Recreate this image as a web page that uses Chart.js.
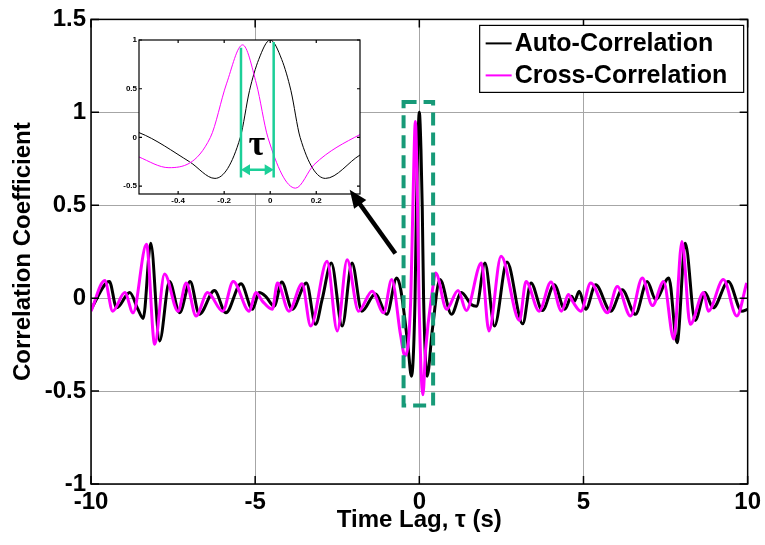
<!DOCTYPE html>
<html>
<head>
<meta charset="utf-8">
<script src="https://cdn.jsdelivr.net/npm/chart.js@4.4.1/dist/chart.umd.min.js"></script>
<style>
  html, body { margin: 0; padding: 0; background: #fff; }
  #wrap { position: relative; width: 765px; height: 545px; }
  #main { position: absolute; left: 0; top: 0; }
  #inset { position: absolute; left: 95px; top: 28px; }
</style>
</head>
<body>
<div id="wrap">
  <canvas id="main" width="765" height="545"></canvas>
  <canvas id="inset" width="320" height="240"></canvas>
</div>
<script>
// ── Series: time lag (s) / correlation coefficient ───────────────────────────

const AUTO_T = [
    -10.0, -9.44, -9.22, -8.82, -8.57, -8.41, -8.18, -7.91, -7.61, -7.30,
    -6.98, -6.70, -6.24, -5.89, -5.43, -5.08, -4.88, -4.68, -4.42, -4.19,
    -3.87, -3.44, -3.16, -2.96, -2.68, -2.35, -2.05, -1.75, -1.34, -0.99,
    -0.69, -0.57, -0.35, -0.24, -0.13, -0.09, -0.05, 0, 0.05, 0.09,
    0.13, 0.24, 0.39, 0.63, 0.98, 1.28, 1.58, 1.74, 2.0, 2.29,
    2.67, 3.15, 3.40, 3.75, 4.11, 4.43, 4.64, 4.72, 4.87, 5.07,
    5.37, 5.83, 6.18, 6.58, 6.94, 7.2, 7.6, 7.85, 8.10, 8.40,
    8.70, 8.95, 9.41, 9.82, 10.0,
];
const AUTO_V = [
    -0.06, 0.09, -0.052, 0.03, -0.06, -0.109, 0.296, -0.23, 0.09, -0.079,
    0.09, -0.087, 0.041, -0.079, 0.077, -0.06, 0.03, 0.01, -0.043, 0.087,
    -0.06, 0.082, -0.141, -0.007, 0.189, -0.15, 0.189, -0.07, 0.023, -0.087,
    0.109, 0.05, -0.25, -0.42, 0.0, 0.48, 0.8, 1.0, 0.8, 0.48,
    0.0, -0.42, -0.18, 0.1, -0.087, 0.03, -0.034, -0.043, 0.189, -0.15,
    0.194, -0.138, 0.082, -0.066, 0.072, -0.06, 0.01, -0.018, 0.037, -0.06,
    0.072, -0.07, 0.045, -0.087, 0.09, -0.007, 0.109, -0.24, 0.296, -0.12,
    0.03, -0.052, 0.09, -0.07, -0.06,
];

const CROSS_T = [
    -10.0, -9.58, -9.34, -8.97, -8.72, -8.31, -8.06, -7.76, -7.35, -7.10,
    -6.80, -6.45, -5.99, -5.67, -5.18, -4.98, -4.78, -4.48, -4.32, -3.97,
    -3.57, -3.31, -2.81, -2.50, -2.20, -1.85, -1.44, -1.09, -0.84, -0.57,
    -0.44, -0.26, -0.19, -0.12, -0.06, -0.01, 0.11, 0.19, 0.39,
    0.5, 0.83, 1.18, 1.43, 1.89, 2.12, 2.49, 3.05, 3.25, 3.65,
    4.01, 4.33, 4.54, 4.67, 4.92, 5.22, 5.73, 6.03, 6.43, 6.79,
    7.1, 7.44, 7.75, 8.0, 8.25, 8.66, 8.8, 9.26, 9.67, 9.97,
];
const CROSS_V = [
    -0.07, 0.095, -0.07, 0.03, -0.079, 0.29, -0.248, 0.13, -0.07, 0.082,
    -0.096, 0.03, -0.07, 0.09, -0.07, 0.03, -0.016, -0.06, 0.082, -0.07,
    0.077, -0.15, 0.198, -0.177, 0.207, -0.07, 0.037, -0.079, 0.1, -0.2,
    -0.31, 0.0, 0.55, 0.95, 0.55, 0.0, -0.52, -0.28, 0.03,
    0.135, -0.06, 0.041, -0.066, 0.189, -0.177, 0.225, -0.12, 0.09, -0.07,
    0.087, -0.07, 0.02, -0.018, -0.07, 0.082, -0.079, 0.063, -0.096, 0.109,
    -0.04, 0.09, -0.22, 0.305, -0.141, 0.03, -0.07, 0.1, -0.096, 0.082,
];

const X_TICKS = [-10, -5, 0, 5, 10];
const Y_TICKS = [-1, -0.5, 0, 0.5, 1, 1.5];
const INSET_X_TICKS = [-0.4, -0.2, 0, 0.2];
const INSET_Y_TICKS = [-0.5, 0, 0.5, 1];

// ── Annotation spots (data units) ────────────────────────────────────────────

const ZOOM_BOX = { x0: -0.48, x1: 0.42, y0: -0.578, y1: 1.055 };     // main axes
const POINTER = { from: [-0.73, 0.24], to: [-2.12, 0.583] };          // main axes
const TAU_LAGS = [-0.127, 0.015];                                      // inset axes
const TAU_TOPS = [0.92, 0.98];

// ── Styles ───────────────────────────────────────────────────────────────────

const FONT = "'Liberation Sans', Arial, sans-serif";
const GRID = "#a6a6a6";
const AUTO_COLOR = "#000000";
const CROSS_COLOR = "#ff00ff";
const TAU_COLOR = "#1ccf98";
const BOX_COLOR = "#179a78";

Chart.defaults.font.family = FONT;
Chart.defaults.color = "#000";

const toPoints = (ts, vs) => ts.map((t, i) => ({ x: t, y: vs[i] }));
const fixTicks = (list) => (s) => { s.ticks = list.map((value) => ({ value })); };

function drawFrame(chart, len, width) {
    const { ctx, chartArea: a, scales: { x, y } } = chart;
    ctx.save();
    ctx.strokeStyle = "#000";
    ctx.lineWidth = width;
    ctx.setLineDash([]);
    ctx.strokeRect(a.left, a.top, a.width, a.height);
    ctx.beginPath();
    for (const t of x.ticks) {
        const px = x.getPixelForValue(t.value);
        ctx.moveTo(px, a.bottom); ctx.lineTo(px, a.bottom - len);
        ctx.moveTo(px, a.top); ctx.lineTo(px, a.top + len);
    }
    for (const t of y.ticks) {
        const py = y.getPixelForValue(t.value);
        ctx.moveTo(a.left, py); ctx.lineTo(a.left + len, py);
        ctx.moveTo(a.right, py); ctx.lineTo(a.right - len, py);
    }
    ctx.stroke();
    ctx.restore();
}

function arrowHead(ctx, tx, ty, ux, uy, len, half) {
    const bx = tx - ux * len, by = ty - uy * len;
    ctx.beginPath();
    ctx.moveTo(tx, ty);
    ctx.lineTo(bx - uy * half, by + ux * half);
    ctx.lineTo(bx + uy * half, by - ux * half);
    ctx.closePath();
    ctx.fill();
}

// ── Main axes ────────────────────────────────────────────────────────────────

const mainDecor = {
    id: "mainDecor",
    afterDatasetsDraw(chart) {
        const { ctx, scales: { x, y } } = chart;
        drawFrame(chart, 8, 1.5);

        // dashed box round the central peaks
        ctx.save();
        ctx.strokeStyle = BOX_COLOR;
        ctx.lineWidth = 4;
        ctx.setLineDash([13, 7]);
        const bx = x.getPixelForValue(ZOOM_BOX.x0), by = y.getPixelForValue(ZOOM_BOX.y1);
        ctx.strokeRect(bx, by, x.getPixelForValue(ZOOM_BOX.x1) - bx, y.getPixelForValue(ZOOM_BOX.y0) - by);
        ctx.restore();
    },
    afterDraw(chart) {
        const { ctx, chartArea: a } = chart;
        const w = 264, h = 67, left = a.right - 4 - w, top = a.top + 6;
        ctx.save();
        ctx.fillStyle = "#fff";
        ctx.fillRect(left, top, w, h);
        ctx.strokeStyle = "#000";
        ctx.lineWidth = 1.2;
        ctx.strokeRect(left, top, w, h);
        ctx.font = "bold 25px " + FONT;
        ctx.textBaseline = "middle";
        chart.data.datasets.forEach((ds, i) => {
            const ly = top + 18 + i * 32;
            ctx.strokeStyle = ds.borderColor;
            ctx.lineWidth = 2;
            ctx.beginPath();
            ctx.moveTo(left + 6, ly);
            ctx.lineTo(left + 32, ly);
            ctx.stroke();
            ctx.fillStyle = "#000";
            ctx.fillText(ds.label, left + 35, ly + 1);
        });
        ctx.restore();
    },
};

const TICK_FONT = { size: 24, weight: "bold" };
const TITLE_FONT = { size: 24, weight: "bold" };

const mainChart = new Chart(document.getElementById("main"), {
    type: "line",
    data: {
        datasets: [
            { label: "Auto-Correlation", data: toPoints(AUTO_T, AUTO_V), borderColor: AUTO_COLOR, borderWidth: 3, order: 1 },
            { label: "Cross-Correlation", data: toPoints(CROSS_T, CROSS_V), borderColor: CROSS_COLOR, borderWidth: 3, order: 0 },
        ],
    },
    options: {
        responsive: false,
        animation: false,
        devicePixelRatio: 1,
        layout: { padding: { top: 17, right: 14, left: 0, bottom: 0 } },
        elements: {
            point: { radius: 0 },
            line: { cubicInterpolationMode: "monotone", fill: false },
        },
        plugins: { legend: { display: false }, tooltip: { enabled: false } },
        scales: {
            x: {
                type: "linear",
                min: -10,
                max: 10,
                afterBuildTicks: fixTicks(X_TICKS),
                afterFit: (s) => { s.height = 61; },
                grid: { color: GRID, lineWidth: 1, drawTicks: false },
                border: { display: false },
                ticks: { font: TICK_FONT, padding: 4, maxRotation: 0, autoSkip: false, callback: (v) => String(v) },
                title: { display: true, text: "Time Lag, τ (s)", font: TITLE_FONT, padding: { top: 0, bottom: 10 } },
            },
            y: {
                type: "linear",
                min: -1,
                max: 1.5,
                afterBuildTicks: fixTicks(Y_TICKS),
                afterFit: (s) => { s.width = 91; },
                grid: { color: GRID, lineWidth: 1, drawTicks: false },
                border: { display: false },
                ticks: { font: TICK_FONT, padding: 5, autoSkip: false, callback: (v) => String(v) },
                title: { display: true, text: "Correlation Coefficient", font: TITLE_FONT, padding: { top: 9, bottom: 0 } },
            },
        },
    },
    plugins: [mainDecor],
});

// ── Inset (zoom on the central lobe) ─────────────────────────────────────────

const insetCanvas = document.getElementById("inset");

const insetDecor = {
    id: "insetDecor",
    beforeDraw(chart) {
        const { ctx, chartArea: a } = chart;
        ctx.save();
        ctx.fillStyle = "#fff";
        ctx.fillRect(a.left, a.top, a.width, a.height);
        ctx.restore();
    },
    afterDatasetsDraw(chart) {
        const { ctx, scales: { x, y } } = chart;
        drawFrame(chart, 3, 1.2);

        // lag markers between the two peaks
        const xl = x.getPixelForValue(TAU_LAGS[0]), xr = x.getPixelForValue(TAU_LAGS[1]);
        const yb = y.getPixelForValue(-0.41), ya = y.getPixelForValue(-0.33);
        ctx.save();
        ctx.strokeStyle = TAU_COLOR;
        ctx.fillStyle = TAU_COLOR;
        ctx.lineWidth = 2.5;
        ctx.beginPath();
        ctx.moveTo(xl, y.getPixelForValue(TAU_TOPS[0])); ctx.lineTo(xl, yb);
        ctx.moveTo(xr, y.getPixelForValue(TAU_TOPS[1])); ctx.lineTo(xr, yb);
        ctx.moveTo(xl + 6, ya); ctx.lineTo(xr - 6, ya);
        ctx.stroke();
        arrowHead(ctx, xl, ya, -1, 0, 9, 5.5);
        arrowHead(ctx, xr, ya, 1, 0, 9, 5.5);

        ctx.fillStyle = "#000";
        ctx.font = "bold 36px 'Liberation Serif', 'DejaVu Serif', serif";
        ctx.textAlign = "center";
        ctx.textBaseline = "alphabetic";
        ctx.fillText("τ", x.getPixelForValue(-0.058), y.getPixelForValue(-0.18));
        ctx.restore();
    },
    afterDraw(chart) {
        // pointer from the dashed box up to the inset
        const { ctx } = chart;
        const mx = mainChart.scales.x, my = mainChart.scales.y;
        const ox = insetCanvas.offsetLeft, oy = insetCanvas.offsetTop;
        const sx = mx.getPixelForValue(POINTER.from[0]) - ox, sy = my.getPixelForValue(POINTER.from[1]) - oy;
        const tx = mx.getPixelForValue(POINTER.to[0]) - ox, ty = my.getPixelForValue(POINTER.to[1]) - oy;
        const d = Math.hypot(tx - sx, ty - sy), ux = (tx - sx) / d, uy = (ty - sy) / d;
        ctx.save();
        ctx.strokeStyle = "#000";
        ctx.fillStyle = "#000";
        ctx.lineWidth = 4.5;
        ctx.beginPath();
        ctx.moveTo(sx, sy);
        ctx.lineTo(tx - ux * 14, ty - uy * 14);
        ctx.stroke();
        arrowHead(ctx, tx, ty, ux, uy, 18, 7.5);
        ctx.restore();
    },
};

const INSET_FONT = { size: 8, weight: "bold" };

new Chart(insetCanvas, {
    type: "line",
    data: {
        datasets: [
            { label: "Auto-Correlation", data: toPoints(AUTO_T, AUTO_V), borderColor: AUTO_COLOR, borderWidth: 1, order: 1 },
            { label: "Cross-Correlation", data: toPoints(CROSS_T, CROSS_V), borderColor: CROSS_COLOR, borderWidth: 1, order: 0 },
        ],
    },
    options: {
        responsive: false,
        animation: false,
        devicePixelRatio: 1,
        layout: { padding: { top: 12, right: 55, left: 0, bottom: 0 } },
        elements: {
            point: { radius: 0 },
            line: { cubicInterpolationMode: "monotone", fill: false },
        },
        plugins: { legend: { display: false }, tooltip: { enabled: false } },
        scales: {
            x: {
                type: "linear",
                min: -0.57,
                max: 0.39,
                afterBuildTicks: fixTicks(INSET_X_TICKS),
                afterFit: (s) => { s.height = 74; },
                grid: { display: false, drawTicks: false },
                border: { display: false },
                ticks: { font: INSET_FONT, padding: 2, maxRotation: 0, autoSkip: false, callback: (v) => String(v) },
            },
            y: {
                type: "linear",
                min: -0.58,
                max: 1.0,
                afterBuildTicks: fixTicks(INSET_Y_TICKS),
                afterFit: (s) => { s.width = 44; },
                grid: { display: false, drawTicks: false },
                border: { display: false },
                ticks: { font: INSET_FONT, padding: 2, autoSkip: false, callback: (v) => String(v) },
            },
        },
    },
    plugins: [insetDecor],
});
</script>
</body>
</html>
